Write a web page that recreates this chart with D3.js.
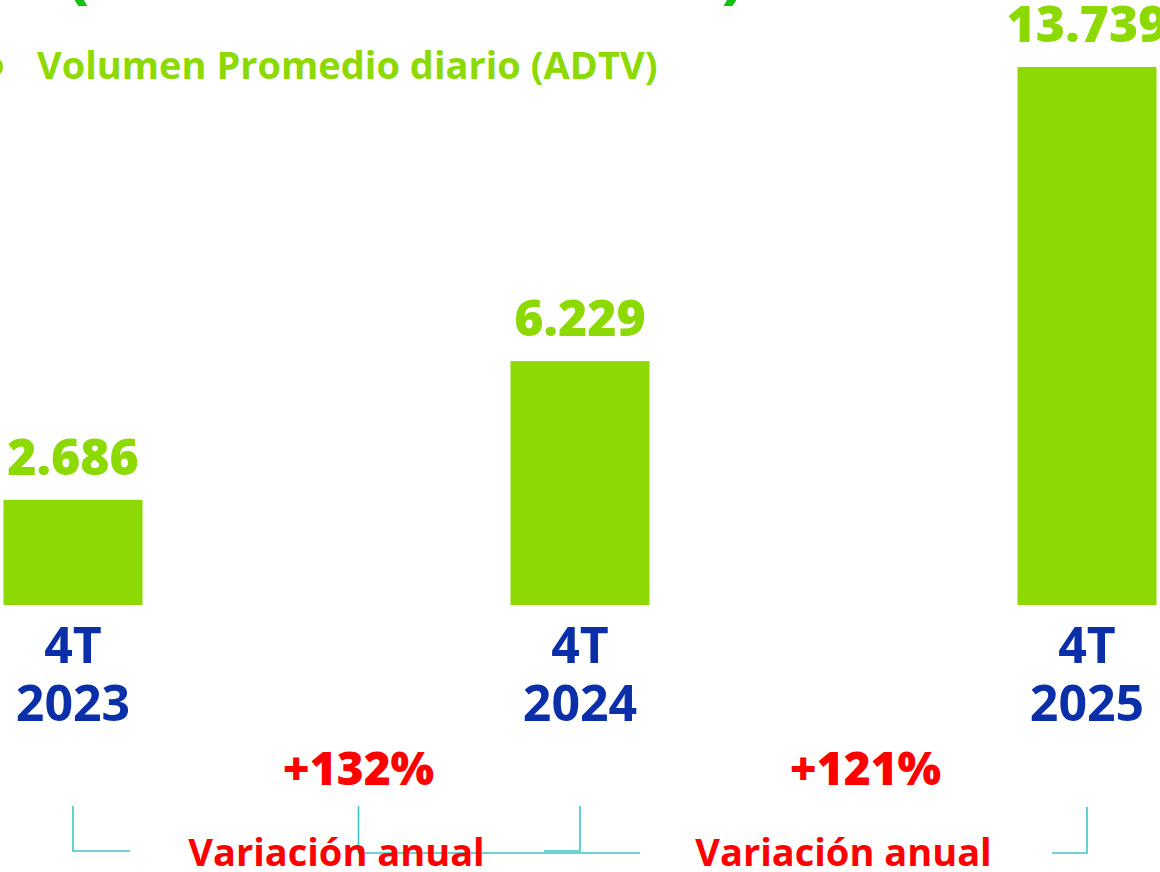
<!DOCTYPE html>
<html>
<head>
<meta charset="utf-8">
<script src="https://cdn.jsdelivr.net/npm/d3@7"></script>
<style>
  html, body { margin: 0; padding: 0; background: #fff; overflow: hidden; }
</style>
</head>
<body>
<div id="adtv-chart"></div>
<script>
// data
const categories = ["2023", "2024", "2025"];
const quarterLabel = "4T";
const adtvValues = [2686, 6229, 13739];
const valueLabels = ["2.686", "6.229", "13.739"];
const variationLabels = ["+132%", "+121%"];
const variationCaption = "Variación anual";
const seriesName = "Volumen Promedio diario (ADTV)";
const titleText = "Volumen negociado (USD miles de millones)";

const width = 1160;
const height = 872;
const barWidth = 139;
const baseY = 605;

const green = "#8dd904";
const blue = "#0a2fa8";
const red = "#ff0000";
const teal = "#3fc4c9";

const svg = d3.select("div#adtv-chart")
    .append("svg")
    .attr("width", width)
    .attr("height", height)
    .attr("viewBox", [0, 0, width, height])
    .attr("font-family", "'Open Sans', sans-serif");

// scales
const x = d3.scalePoint(categories, [73, 1087]);
const y = d3.scaleLinear([0, d3.max(adtvValues)], [baseY, 67]);

// title, almost entirely cut off at the top edge
svg.append("text")
    .attr("x", 742)
    .attr("y", -3)
    .attr("text-anchor", "end")
    .attr("font-size", 56)
    .attr("font-weight", 800)
    .attr("fill", "#14c014")
    .text(titleText);

// legend
svg.append("circle")
    .attr("cx", -8)
    .attr("cy", 67)
    .attr("r", 11)
    .attr("fill", green);

svg.append("text")
    .attr("x", 37)
    .attr("y", 79)
    .attr("font-size", 38)
    .attr("font-weight", 700)
    .attr("fill", green)
    .text(seriesName);

// bars
const data = categories.map((c, i) => ({ cat: c, value: adtvValues[i], label: valueLabels[i] }));

svg.append("g")
    .selectAll("rect")
    .data(data)
    .join("rect")
    .attr("x", d => x(d.cat) - barWidth / 2)
    .attr("width", barWidth)
    .attr("y", d => y(d.value))
    .attr("height", d => y(0) - y(d.value))
    .attr("fill", green);

// value labels
svg.append("g")
    .selectAll("text")
    .data(data)
    .join("text")
    .attr("x", d => x(d.cat))
    .attr("y", d => y(d.value) - 25)
    .attr("text-anchor", "middle")
    .attr("font-size", 50)
    .attr("font-weight", 800)
    .attr("fill", green)
    .text(d => d.label);

// category labels
const cats = svg.append("g")
    .attr("text-anchor", "middle")
    .attr("font-size", 50)
    .attr("font-weight", 700)
    .attr("fill", blue);

cats.selectAll("text.q")
    .data(categories)
    .join("text")
    .attr("class", "q")
    .attr("x", d => x(d))
    .attr("y", baseY + 58)
    .text(quarterLabel);

cats.selectAll("text.yr")
    .data(categories)
    .join("text")
    .attr("class", "yr")
    .attr("x", d => x(d))
    .attr("y", baseY + 116)
    .text(d => d);

// brackets between years (drawn before the captions so text sits on top)
const pairs = d3.pairs(categories).map(([a, b], i) => ({ a: x(a), b: x(b), mid: (x(a) + x(b)) / 2, label: variationLabels[i] }));
const br = svg.append("g")
    .attr("fill", "none")
    .attr("stroke", teal)
    .attr("stroke-width", 1.6);

const p0 = pairs[0], p1 = pairs[1];
br.append("path").attr("d", `M${p0.a},806V851H${p0.a + 57}`);
br.append("path").attr("d", `M${p0.mid + 32},806V853H${p0.b + 60}`);
br.append("path").attr("d", `M${p0.b},806V851H${p0.b - 36}`);
br.append("path").attr("d", `M${p1.b},807V853H${p1.b - 35}`);

// variation labels
svg.append("g")
    .selectAll("text")
    .data(pairs)
    .join("text")
    .attr("x", d => d.mid + 32)
    .attr("y", 785)
    .attr("text-anchor", "middle")
    .attr("font-size", 46)
    .attr("font-weight", 800)
    .attr("fill", red)
    .text(d => d.label);

svg.append("g")
    .selectAll("text")
    .data(pairs)
    .join("text")
    .attr("x", d => d.mid + 10)
    .attr("y", 866)
    .attr("text-anchor", "middle")
    .attr("font-size", 38)
    .attr("font-weight", 700)
    .attr("fill", red)
    .text(variationCaption);
</script>
</body>
</html>
